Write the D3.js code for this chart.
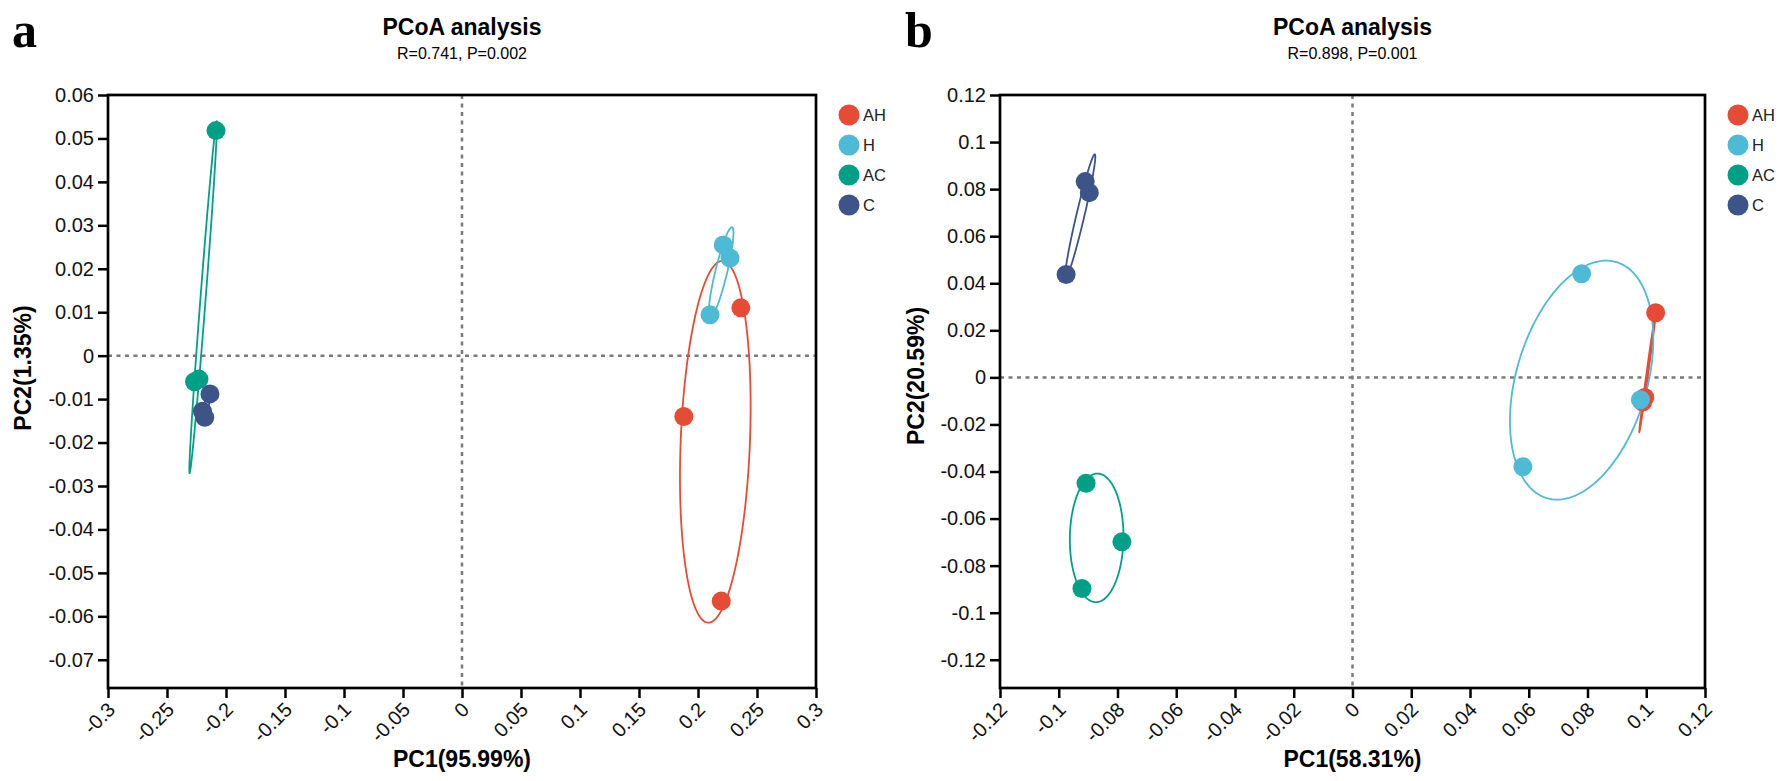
<!DOCTYPE html>
<html>
<head>
<meta charset="UTF-8">
<title>PCoA analysis</title>
<script src="https://cdn.jsdelivr.net/npm/d3@7"></script>
<style>
  body { margin: 0; background: #fff; }
  svg { display: block; font-family: "Liberation Sans", Arial, sans-serif; }
</style>
</head>
<body>
<script>
// groups and colours (shared by both panels)
var groups = ["AH", "H", "AC", "C"];
var groupColors = ["#E64B35", "#4DBBD5", "#00A087", "#3C5488"];

// panel a samples
var aGroup = ["AH", "AH", "AH", "H", "H", "H", "AC", "AC", "AC", "C", "C", "C"];
var aPC1 = [0.2363, 0.1880, 0.2197, 0.2214, 0.2271, 0.2102, -0.2085, -0.2267, -0.2229, -0.2136, -0.2200, -0.2180];
var aPC2 = [0.0110, -0.0140, -0.0565, 0.0255, 0.0225, 0.0094, 0.0518, -0.0060, -0.0054, -0.0088, -0.0128, -0.0142];
var aXTicks = [-0.3, -0.25, -0.2, -0.15, -0.1, -0.05, 0, 0.05, 0.1, 0.15, 0.2, 0.25, 0.3];
var aYTicks = [0.06, 0.05, 0.04, 0.03, 0.02, 0.01, 0, -0.01, -0.02, -0.03, -0.04, -0.05, -0.06, -0.07];

// panel b samples
var bGroup = ["AH", "AH", "AH", "H", "H", "H", "AC", "AC", "AC", "C", "C", "C"];
var bPC1 = [0.1032, 0.0995, 0.0988, 0.0780, 0.0580, 0.0980, -0.0907, -0.0785, -0.0921, -0.0910, -0.0896, -0.0975];
var bPC2 = [0.0275, -0.0085, -0.0105, 0.0440, -0.0380, -0.0095, -0.0450, -0.0699, -0.0897, 0.0832, 0.0785, 0.0437];
var bXTicks = [-0.12, -0.1, -0.08, -0.06, -0.04, -0.02, 0, 0.02, 0.04, 0.06, 0.08, 0.1, 0.12];
var bYTicks = [0.12, 0.1, 0.08, 0.06, 0.04, 0.02, 0, -0.02, -0.04, -0.06, -0.08, -0.1, -0.12];

var W = 1784, H = 781;
var ELLIPSE_R = 1.22;

var svg = d3.select("body").append("svg").attr("width", W).attr("height", H);

var color = d3.scaleOrdinal().domain(groups).range(groupColors);
var fmt = function (d) { return String(+d.toFixed(2)); };

function drawPanel(opt) {
    var x = d3.scaleLinear().domain(opt.xDomain).range([opt.left, opt.right]);
    var y = d3.scaleLinear().domain(opt.yDomain).range([688, 95]);
    var g = svg.append("g");

    // zero reference lines
    g.append("line")
        .attr("x1", x(0)).attr("x2", x(0)).attr("y1", y.range()[1]).attr("y2", y.range()[0])
        .attr("stroke", "#7a7a7a").attr("stroke-width", 2.5).attr("stroke-dasharray", "4,4.5");
    g.append("line")
        .attr("x1", opt.left).attr("x2", opt.right).attr("y1", y(0)).attr("y2", y(0))
        .attr("stroke", "#7a7a7a").attr("stroke-width", 2.5).attr("stroke-dasharray", "4,4.5");

    var pts = opt.pc1.map(function (v, i) { return { g: opt.group[i], x: v, y: opt.pc2[i] }; });

    // confidence ellipses, built from each group's points
    var line = d3.line().x(function (d) { return x(d[0]); }).y(function (d) { return y(d[1]); })
        .curve(d3.curveLinearClosed);
    groups.forEach(function (grp) {
        var p = pts.filter(function (d) { return d.g === grp; });
        var n = p.length;
        var mx = d3.mean(p, function (d) { return d.x; });
        var my = d3.mean(p, function (d) { return d.y; });
        var sxx = d3.sum(p, function (d) { return (d.x - mx) * (d.x - mx); }) / (n - 1);
        var syy = d3.sum(p, function (d) { return (d.y - my) * (d.y - my); }) / (n - 1);
        var sxy = d3.sum(p, function (d) { return (d.x - mx) * (d.y - my); }) / (n - 1);
        var a = Math.sqrt(sxx), b = sxy / a, c = Math.sqrt(Math.max(syy - b * b, 0));
        var ring = d3.range(0, 360, 2).map(function (deg) {
            var t = deg * Math.PI / 180;
            return [mx + ELLIPSE_R * a * Math.cos(t),
                    my + ELLIPSE_R * (b * Math.cos(t) + c * Math.sin(t))];
        });
        g.append("path").attr("d", line(ring))
            .attr("fill", "none").attr("stroke", color(grp)).attr("stroke-width", 1.8);
    });

    // sample points
    g.selectAll("circle.pt").data(pts).enter().append("circle")
        .attr("class", "pt")
        .attr("cx", function (d) { return x(d.x); })
        .attr("cy", function (d) { return y(d.y); })
        .attr("r", 9.5)
        .attr("fill", function (d) { return color(d.g); });

    // axes
    var xAxis = g.append("g").attr("transform", "translate(0,688)")
        .call(d3.axisBottom(x).tickValues(opt.xTicks).tickFormat(fmt).tickSize(10));
    xAxis.selectAll("text")
        .attr("y", 0).attr("x", 0).attr("dy", "0.35em")
        .attr("text-anchor", "end")
        .attr("transform", "translate(3,18) rotate(-45)");
    var yAxis = g.append("g").attr("transform", "translate(" + opt.left + ",0)")
        .call(d3.axisLeft(y).tickValues(opt.yTicks).tickFormat(fmt).tickSize(10).tickPadding(4));
    [xAxis, yAxis].forEach(function (ax) {
        ax.select(".domain").remove();
        ax.selectAll("line").attr("stroke", "#000").attr("stroke-width", 2.5);
        ax.selectAll("text").attr("font-size", 20).attr("fill", "#111")
            .attr("font-family", "Liberation Sans, Arial, sans-serif");
    });

    // frame
    g.append("rect")
        .attr("x", opt.left).attr("y", 95)
        .attr("width", opt.right - opt.left).attr("height", 688 - 95)
        .attr("fill", "none").attr("stroke", "#000").attr("stroke-width", 2.7);

    var cx = (opt.left + opt.right) / 2;
    g.append("text").attr("x", cx).attr("y", 35).attr("text-anchor", "middle")
        .attr("font-size", 23).attr("font-weight", "bold").text("PCoA analysis");
    g.append("text").attr("x", cx).attr("y", 59).attr("text-anchor", "middle")
        .attr("font-size", 16).text(opt.subtitle);
    g.append("text").attr("x", cx).attr("y", 767).attr("text-anchor", "middle")
        .attr("font-size", 23).attr("font-weight", "bold").text(opt.xLabel);
    g.append("text")
        .attr("transform", "translate(" + opt.yLabelX + "," + opt.yLabelY + ") rotate(-90)")
        .attr("text-anchor", "middle")
        .attr("font-size", 23).attr("font-weight", "bold").text(opt.yLabel);

    // panel letter
    g.append("text").attr("x", opt.letterX).attr("y", 47)
        .attr("font-family", "Liberation Serif, Times New Roman, serif")
        .attr("font-size", 50).attr("font-weight", "bold").text(opt.letter);

    // legend
    var lg = g.append("g").attr("transform", "translate(" + (opt.right + 33) + ",115)");
    var item = lg.selectAll("g").data(groups).enter().append("g")
        .attr("transform", function (d, i) { return "translate(0," + i * 30 + ")"; });
    item.append("circle").attr("r", 10.5).attr("fill", function (d) { return color(d); });
    item.append("text").attr("x", 14).attr("dy", "0.36em").attr("font-size", 16.5)
        .attr("fill", "#222").text(function (d) { return d; });
}

drawPanel({
    letter: "a", letterX: 12,
    left: 108, right: 816,
    xDomain: [-0.3, 0.3], yDomain: [-0.0765, 0.06],
    xTicks: aXTicks, yTicks: aYTicks,
    group: aGroup, pc1: aPC1, pc2: aPC2,
    subtitle: "R=0.741, P=0.002",
    xLabel: "PC1(95.99%)", yLabel: "PC2(1.35%)",
    yLabelX: 31, yLabelY: 368
});

drawPanel({
    letter: "b", letterX: 905,
    left: 1000, right: 1705,
    xDomain: [-0.12, 0.12], yDomain: [-0.132, 0.12],
    xTicks: bXTicks, yTicks: bYTicks,
    group: bGroup, pc1: bPC1, pc2: bPC2,
    subtitle: "R=0.898, P=0.001",
    xLabel: "PC1(58.31%)", yLabel: "PC2(20.59%)",
    yLabelX: 924, yLabelY: 376
});
</script>
</body>
</html>
